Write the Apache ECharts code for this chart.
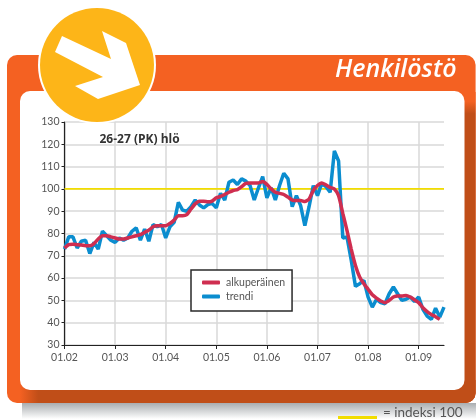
<!DOCTYPE html>
<html><head><meta charset="utf-8">
<style>html,body{margin:0;padding:0;background:#fff}#c{width:476px;height:420px}</style>
<script src="https://cdn.jsdelivr.net/npm/echarts@6/dist/echarts.min.js"></script>
</head><body><div id="c"></div>
<script>
const xTickLabels = ['01.02','01.03','01.04','01.05','01.06','01.07','01.08','01.09'];
const yearMonths = [0,12,24,36,48,60,72,84];
const alkuperainen = [73.5,75,75.2,75,74.8,74.5,74.5,75.5,77.5,79,79,78.5,78,77.5,77.5,78,78.5,79,79.5,80.5,81.5,83,83.5,83.5,83.5,84.5,86,88,88,88.5,91,93.3,94.5,94.5,94.2,94.5,96,96.6,97.5,98.5,99.3,99.7,101,102.5,102.7,102.7,102.7,103.3,102,100,98.5,98,97.5,96.3,95,94.8,94.8,94.3,95.5,99.3,101.5,102.7,101.8,100.7,100,97,89,81.3,73,65.7,60.5,57.5,55,52.5,51,49.7,49,50,51.5,52,52,52.2,51.5,50.3,49,46.7,45,43.7,42.7,41.5];
const trendi = [73,78.5,78.5,73.5,76.5,77,71,76,73,81,79,77,76,78,77,78,81,82.5,77,82,76.5,84,83,84,78,83,85,94,90.5,90,92,95,92.8,91.5,93,93.5,91.5,98,95,103,104,102,104.5,103.5,101.5,95,100.5,105.5,96,100.5,95,101.5,107,104.5,92,97,92.5,83.5,92,101.5,97,102.5,101,98.5,117,112.5,78,78.4,68,56.3,57.5,59,51.5,47,50.5,49,48.5,53,56,53,50,50.5,51.5,49.5,51.5,46,43,41.5,46.5,42.5,47];
const indeksi = [[0,100],[90,100]];
const seriesNames = ['alkuperäinen','trendi'];
const RED='#cf2e50', BLUE='#0b8dcf', YEL='#f2dd00', OR='#f46122', DK='#c04e18';
const F='Lato,"Open Sans",sans-serif';
const chart = echarts.init(document.getElementById('c'),null,{renderer:'canvas'});
chart.setOption({
  animation:false, backgroundColor:'#fff',
  grid:{left:64.5,top:122,width:379.5,height:223},
  legend:{data:seriesNames,orient:'vertical',left:191,top:270,padding:[7,7,9,11],itemGap:3,itemWidth:18,itemHeight:4,
    icon:'roundRect',backgroundColor:'#fff',borderColor:'#2a2a2a',borderWidth:1.5,
    textStyle:{fontFamily:F,fontSize:10.5,color:'#555',padding:[0,0,0,1]}},
  xAxis:{type:'value',min:0,max:90,interval:12,
    axisLine:{lineStyle:{color:'#222',width:1.2}},
    axisTick:{length:4,lineStyle:{color:'#222'},customValues:yearMonths},
    axisLabel:{customValues:yearMonths,fontFamily:F,fontSize:10.5,color:'#555',margin:7,
      formatter:v=>xTickLabels[yearMonths.indexOf(v)]||''},
    splitLine:{show:true,lineStyle:{color:'#d8d8d8',width:1.5}}},
  yAxis:{type:'value',min:30,max:130,interval:10,
    axisLine:{show:true,lineStyle:{color:'#222',width:1.2}},
    axisTick:{show:true,length:3,lineStyle:{color:'#222'}},
    axisLabel:{fontFamily:F,fontSize:10.5,color:'#555',margin:5},
    splitLine:{show:true,lineStyle:{color:'#d8d8d8',width:1.5}}},
  series:[
    {name:'indeksi 100',type:'line',data:indeksi,symbol:'none',lineStyle:{color:YEL,width:1.8},z:2},
    {name:seriesNames[1],type:'line',data:trendi.map((v,i)=>[i,v]),symbol:'none',itemStyle:{color:BLUE},lineStyle:{color:BLUE,width:3.5},z:3},
    {name:seriesNames[0],type:'line',data:alkuperainen.map((v,i)=>[i,v]),symbol:'none',smooth:0.2,itemStyle:{color:RED},lineStyle:{color:RED,width:3.5},z:4}
  ],
  graphic:[
    {type:'rect',z:-10,shape:{x:22,y:403,width:454,height:16},style:{fill:{type:'linear',x:0,y:0,x2:0,y2:1,colorStops:[{offset:0,color:'#a9adb0'},{offset:1,color:'#ffffff'}]}}},
    {type:'rect',z:-9,shape:{x:7,y:55,width:468.6,height:348,r:10},style:{fill:OR}},
    {type:'rect',z:-8,shape:{x:20,y:380,width:455.6,height:23,r:[0,0,10,0]},style:{fill:{type:'linear',x:0,y:0,x2:1,y2:0,colorStops:[{offset:0,color:OR},{offset:0.04,color:DK},{offset:1,color:DK}]}}},
    {type:'rect',z:-8,shape:{x:450,y:92,width:25.6,height:311,r:[0,0,10,0]},style:{fill:{type:'linear',x:0,y:0,x2:0,y2:1,colorStops:[{offset:0,color:OR},{offset:0.03,color:OR},{offset:0.07,color:DK},{offset:1,color:DK}]}}},
    {type:'rect',z:-7,shape:{x:20,y:91,width:444.5,height:299,r:10},style:{fill:'#fff'}},
    {type:'text',z:5,style:{x:456.5,y:70,text:'Henkilöstö',fill:'#fff',font:'italic 600 25px "Open Sans",sans-serif',textAlign:'right',textVerticalAlign:'middle'}},
    {type:'circle',z:20,shape:{cx:97,cy:65,r:59},style:{fill:'#fff'}},
    {type:'circle',z:21,shape:{cx:97,cy:65,r:57},style:{fill:'#fdb518'}},
    {type:'polygon',z:22,shape:{points:[[62,36],[55,52],[103,77],[75,86],[98,99],[140,85],[126,43],[102,31],[111,59]]},style:{fill:'#fff'}},
    {type:'text',z:6,style:{x:99.5,y:139.5,text:'26-27 (PK) hlö',fill:'#333',font:'bold 12px "Open Sans",sans-serif',textVerticalAlign:'middle'}},
    {type:'line',z:6,shape:{x1:338,y1:417.5,x2:377,y2:417.5},style:{stroke:YEL,lineWidth:3}},
    {type:'text',z:6,style:{x:383,y:413,text:'= indeksi 100',fill:'#555',font:'13.5px Lato,"Open Sans",sans-serif',textVerticalAlign:'middle'}}
  ]
});
</script></body></html>
